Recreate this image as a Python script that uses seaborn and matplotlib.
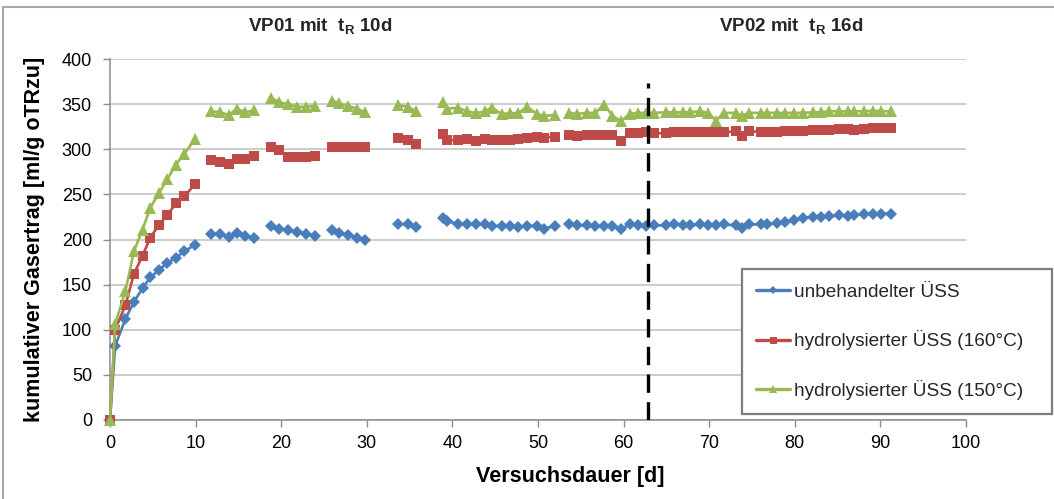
import numpy as np
import pandas as pd
import matplotlib
matplotlib.use("Agg")
import matplotlib.pyplot as plt
import seaborn as sns
from matplotlib.lines import Line2D

GAP = np.nan

# Test days (NaN marks a break in the measurement series)
days = [0, 0.6, 1.8, 2.8, 3.8, 4.7, 5.7, 6.7, 7.7, 8.7, 9.9, GAP,
        11.8, 12.8, 13.9, 14.8, 15.8, 16.8, GAP,
        18.8, 19.8, 20.8, 21.9, 22.9, 23.9, GAP,
        25.9, 26.8, 27.8, 28.8, 29.8, GAP,
        33.7, 34.8, 35.8, GAP,
        38.9, 39.4, 40.7, 41.7, 42.7, 43.8, 44.6, 45.8, 46.7, 47.7, 48.7, 49.9, 50.7, 52.0, GAP,
        53.6, 54.6, 55.7, 56.7, 57.7, 58.7, 59.7, 60.7, 61.7,
        62.6, 63.5, 65.0, 65.9, 66.9, 67.8, 68.9, 69.9, 70.8, 71.7, 73.1, 73.8, 74.7, 76.0, 76.7,
        77.9, 78.9, 79.9, 80.9, 82.1, 83.1, 84.0, 85.2, 86.2, 86.9, 88.1, 89.1, 90.1, 91.2]

unbehandelt = [0, 82, 112, 131, 146, 158, 166, 174, 180, 187, 194, GAP,
               206, 206, 203, 207, 204, 202, GAP,
               215, 212, 210, 208, 206, 204, GAP,
               210, 207, 205, 202, 199, GAP,
               217, 217, 214, GAP,
               224, 220, 217.5, 217, 217, 217, 215, 215, 215, 214, 215, 215, 212, 215, GAP,
               216.7, 215.6, 215.6, 214.8, 214.8, 214.8, 211.2, 216.7, 215.6,
               214.8, 215.6, 215.6, 216.7, 215.6, 215.6, 216.7, 215.6, 215.6, 216.7, 215.6, 213, 216.7, 216.7, 216.7,
               218.2, 219.3, 221.2, 224.1, 224.8, 224.8, 225.6, 226.7, 225.6, 226.7, 228.5, 228.5, 228.5, 228.5]

hydro_160 = [0, 100, 127, 162, 182, 202, 216, 227, 240, 248, 261, GAP,
             288, 286, 284, 289, 289, 293, GAP,
             303, 299, 291, 291, 291, 293, GAP,
             302, 302, 303, 303, 302, GAP,
             313, 310, 306, GAP,
             317, 310, 310, 311, 309, 311, 310, 310, 310, 311, 313, 314, 313, 314, GAP,
             316.3, 315.2, 316.3, 316.3, 316.3, 316.3, 309.6, 317.7, 317.7,
             318.8, 317.7, 317.7, 318.8, 318.8, 318.8, 318.8, 318.8, 318.8, 318.8, 319.9, 315.1, 320.6, 318.8, 318.8,
             318.8, 319.9, 320.6, 320.6, 321.3, 321.3, 321.3, 322.4, 322.4, 321.3, 322.4, 323.2, 323.2, 323.2]

hydro_150 = [0, 106, 143, 187, 211, 235, 251, 267, 283, 295, 311, GAP,
             342, 341, 338, 345, 341, 343, GAP,
             357, 352, 350, 347, 347, 348, GAP,
             354, 351, 348, 345, 341, GAP,
             349, 347, 342, GAP,
             352, 345, 346, 342, 340, 342, 346, 339, 340, 340, 347, 339, 337, 338, GAP,
             340.3, 339.2, 340.3, 340.3, 349.4, 337.3, 331, 339.2, 340.3,
             340.3, 340.3, 341, 341, 341, 341, 342.1, 340.3, 331.8, 340.3, 340.3, 337.3, 340.3, 340.3, 340.3,
             340.3, 340.3, 340.3, 340.3, 341, 341, 342.1, 342.1, 342.1, 342.1, 342.1, 342.8, 342.1, 342.1]

series_names = ["unbehandelter ÜSS", "hydrolysierter ÜSS (160°C)", "hydrolysierter ÜSS (150°C)"]
series_values = [unbehandelt, hydro_160, hydro_150]
colors = ["#4A7EBB", "#BE4B48", "#98B954"]
marker_list = ["D", "s", "^"]
marker_sizes = [5.8, 7.2, 8.2]

switch_day = 62.8
switch_top = 373
phase_titles = ["VP01 mit  $\\mathbf{t_R}$ 10d", "VP02 mit  $\\mathbf{t_R}$ 16d"]

x_label = "Versuchsdauer [d]"
y_label = "kumulativer Gasertrag [ml/g oTRzu]"

# ---------------------------------------------------------------
sns.set_theme(style="white")
plt.rcParams["font.family"] = ["Liberation Sans", "DejaVu Sans"]
plt.rcParams["mathtext.fontset"] = "custom"
plt.rcParams["mathtext.rm"] = "Liberation Sans"
plt.rcParams["mathtext.bf"] = "Liberation Sans:bold"
plt.rcParams["mathtext.it"] = "Liberation Sans:italic"

W, H = 1054, 499
fig = plt.figure(figsize=(W / 100, H / 100), dpi=100)
ax = fig.add_axes([110 / W, 1 - 420 / H, (966 - 110) / W, (420 - 59) / H])

seg = np.cumsum(np.isnan(np.array(days, dtype=float)))
frames = []
for name, vals in zip(series_names, series_values):
    frames.append(pd.DataFrame({"day": days, "value": vals, "series": name, "seg": seg}))
df = pd.concat(frames, ignore_index=True).dropna()

grey_axis = "#8C8C8C"
ax.set_xlim(0, 100)
ax.set_ylim(0, 400)
ax.set_xticks(np.arange(0, 101, 10))
ax.set_yticks(np.arange(0, 401, 50))
ax.grid(axis="y", color="#BEBEBE", linewidth=1.1)
ax.grid(axis="x", visible=False)
ax.set_axisbelow(True)

for name, c, m, ms in zip(series_names, colors, marker_list, marker_sizes):
    sub = df[df["series"] == name]
    sns.lineplot(data=sub, x="day", y="value", units="seg", estimator=None,
                 color=c, marker=m, markersize=ms, markeredgewidth=0,
                 linewidth=1.9, ax=ax, legend=False, zorder=3, clip_on=False)

ax.axvline(switch_day, ymin=0, ymax=switch_top / 400, color="black",
           linewidth=2.4, dashes=(5.5, 2.8), zorder=4)

for s in ["top", "right"]:
    ax.spines[s].set_visible(False)
for s in ["left", "bottom"]:
    ax.spines[s].set_color(grey_axis)
    ax.spines[s].set_linewidth(1.1)

ax.tick_params(axis="both", which="major", direction="out", length=5, width=1.0,
               color=grey_axis, labelsize=13, labelcolor="black")
ax.tick_params(axis="y", pad=8)
ax.tick_params(axis="x", pad=6)
ax.tick_params(left=True, bottom=True)

ax.set_xlabel(x_label, fontsize=15.5, fontweight="bold", color="black")
ax.set_ylabel(y_label, fontsize=15.5, fontweight="bold", color="black")
ax.xaxis.set_label_coords((570 - 110) / 856, (420 - 466) / 361)
ax.yaxis.set_label_coords((45 - 110) / 856, 0.5)

# phase titles
fig.text(320 / W, 1 - 26 / H, phase_titles[0], ha="center", va="center",
         fontsize=13.5, fontweight="bold")
fig.text(791 / W, 1 - 26 / H, phase_titles[1], ha="center", va="center",
         fontsize=13.5, fontweight="bold")

# legend
handles = [Line2D([], [], color=c, marker=m, markersize=ms * 0.7, markeredgewidth=0, linewidth=2.4)
           for c, m, ms in zip(colors, marker_list, marker_sizes)]
leg = ax.legend(handles, series_names, loc="lower left", mode="expand",
                bbox_to_anchor=(742 / W, 1 - 414 / H, 310 / W, 146 / H),
                bbox_transform=fig.transFigure,
                fontsize=13.7, frameon=True, fancybox=False, framealpha=1,
                handlelength=1.75, handletextpad=0.25, labelspacing=1.55,
                borderpad=0.75, borderaxespad=0)
leg.get_frame().set_edgecolor("#7F7F7F")
leg.get_frame().set_linewidth(1.6)

# outer chart border (top and left visible in the crop)
fig.add_artist(Line2D([3 / W, 1], [1 - 7 / H, 1 - 7 / H], transform=fig.transFigure,
                      color="#A6A6A6", linewidth=1.5))
fig.add_artist(Line2D([3 / W, 3 / W], [0, 1 - 7 / H], transform=fig.transFigure,
                      color="#A6A6A6", linewidth=1.5))

fig.savefig("out.png", dpi=100)
